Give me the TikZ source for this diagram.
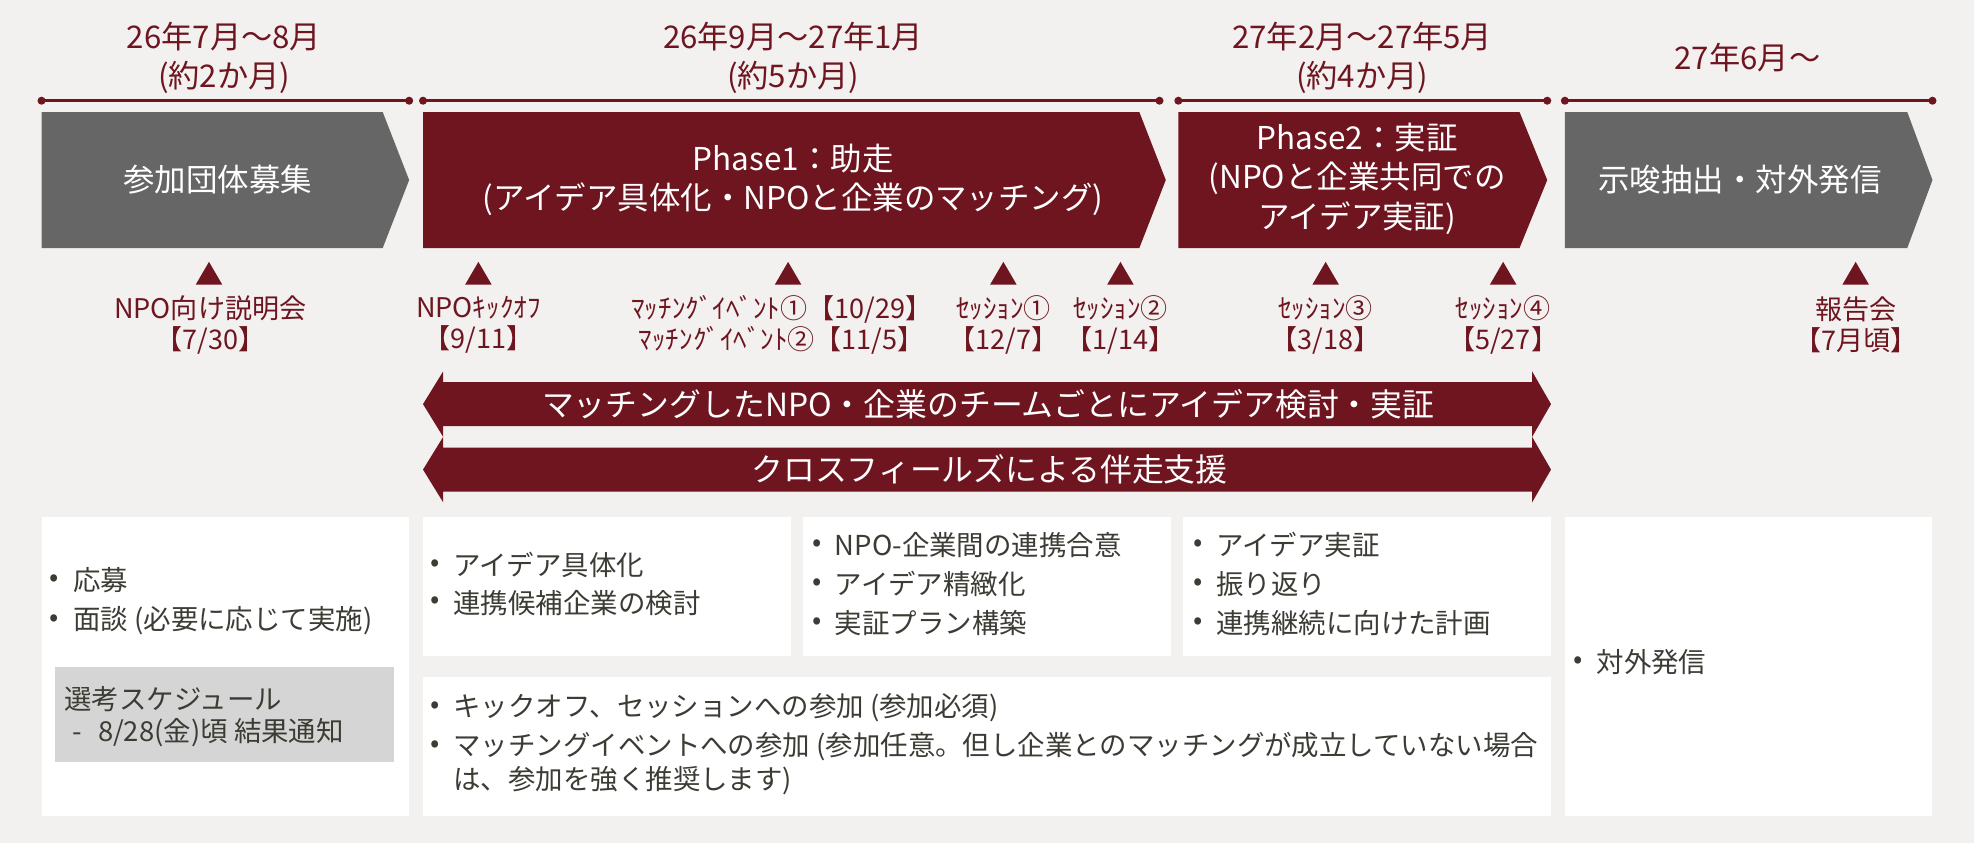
\documentclass[tikz,border=0pt]{standalone}
\usepackage{fontspec}
\setmainfont{Noto Sans CJK JP}
\definecolor{mr}{HTML}{6E1520}
\definecolor{cg}{HTML}{666666}
\definecolor{bgc}{HTML}{F2F1EF}
\definecolor{tx}{HTML}{3C3C35}
\definecolor{sg}{HTML}{D5D5D5}
\newcommand{\chevshape}[4]{\fill[#4] (#1,89) -- (#2,89) -- (#3,143) -- (#2,197) -- (#1,197) -- cycle;}
\newcommand{\evtri}[1]{\fill[mr] ({#1-10.5},226) -- (#1,208) -- ({#1+10.5},226) -- cycle;}
\newcommand{\dband}[1]{\fill[mr] (352,{#1-17.5}) -- (1217,{#1-17.5}) -- (1217,{#1-26}) -- (1232,#1) -- (1217,{#1+26}) -- (1217,{#1+17.5}) -- (352,{#1+17.5}) -- (352,{#1+26}) -- (336,#1) -- (352,{#1-26}) -- cycle;}
\begin{document}
\begin{tikzpicture}[x=1pt,y=-1pt,
  hdr/.style={text=mr,font=\fontsize{24.8}{30.5}\selectfont,align=center,inner sep=0},
  chtxt/.style={text=white,font=\fontsize{25}{31.5}\selectfont,align=center,inner sep=0},
  evt/.style={text=mr,font=\fontsize{21.5}{25}\selectfont,align=center,inner sep=0},
  bandtxt/.style={text=white,font=\fontsize{25.3}{30}\selectfont,inner sep=0},
  btxt/.style={text=tx,font=\fontsize{21.8}{25}\selectfont,anchor=west,inner sep=0},
  wbox/.style={fill=white},
  tline/.style={draw=mr,line width=2pt},
]
\fill[bgc] (0,0) rectangle (1568,670);
\useasboundingbox (0,0) rectangle (1568,670);

% period headers
\node[hdr] (h1) at (178,46) {26年7月〜8月\\(約2か月)};
\node[hdr] (h2) at (630,46) {26年9月〜27年1月\\(約5か月)};
\node[hdr] (h3) at (1082,46) {27年2月〜27年5月\\(約4か月)};
\node[hdr] (h4) at (1388,46) {27年6月〜};

% timeline segments
\coordinate (t1a) at (33,80);  \coordinate (t1b) at (325,80);
\coordinate (t2a) at (336,80); \coordinate (t2b) at (921,80);
\coordinate (t3a) at (936,80); \coordinate (t3b) at (1229,80);
\coordinate (t4a) at (1243,80); \coordinate (t4b) at (1535,80);
\foreach \a/\b in {t1a/t1b,t2a/t2b,t3a/t3b,t4a/t4b}{
  \draw[tline] (\a) -- (\b);
  \fill[mr] (\a) circle[radius=3.2pt];
  \fill[mr] (\b) circle[radius=3.2pt];
}

% chevrons
\chevshape{33}{304}{325}{cg}
\chevshape{336}{905}{926}{mr}
\chevshape{936}{1207}{1229}{mr}
\chevshape{1243}{1515}{1535}{cg}
\node[chtxt] (c1) at (173,143) {参加団体募集};
\node[chtxt] (c2) at (630,143) {Phase1：助走\\(アイデア具体化・NPOと企業のマッチング)};
\node[chtxt] (c3) at (1078,142) {Phase2：実証\\(NPOと企業共同での\\アイデア実証)};
\node[chtxt] (c4) at (1382,143) {示唆抽出・対外発信};

% event markers
\foreach \x in {166,380,626,797,890,1053,1194,1474}{\evtri{\x}}
\node[evt] (e1) at (167,258) {NPO向け説明会\\【7/30】};
\node[evt] (e2) at (380,258) {NPOｷｯｸｵﾌ\\【9/11】};
\node[evt] (e3) at (621,258) {ﾏｯﾁﾝｸﾞｲﾍﾞﾝﾄ①【10/29】\\ﾏｯﾁﾝｸﾞｲﾍﾞﾝﾄ②【11/5】};
\node[evt] (e4) at (797,258) {ｾｯｼｮﾝ①\\【12/7】};
\node[evt] (e5) at (890,258) {ｾｯｼｮﾝ②\\【1/14】};
\node[evt] (e6) at (1053,258) {ｾｯｼｮﾝ③\\【3/18】};
\node[evt] (e7) at (1194,258) {ｾｯｼｮﾝ④\\【5/27】};
\node[evt] (e8) at (1474,258) {報告会\\【7月頃】};

% double arrow bands
\dband{321}
\dband{373}
\node[bandtxt] (b1) at (785,321) {マッチングしたNPO・企業のチームごとにアイデア検討・実証};
\node[bandtxt] (b2) at (786,373) {クロスフィールズによる伴走支援};

% white boxes
\fill[wbox] (33,411) rectangle (325,648);
\fill[wbox] (336,411) rectangle (628,521);
\fill[wbox] (638,411) rectangle (930,521);
\fill[wbox] (940,411) rectangle (1232,521);
\fill[wbox] (336,538) rectangle (1232,648);
\fill[wbox] (1243,411) rectangle (1535,648);
\fill[sg] (44,530) rectangle (313,605);

% box A
\node[btxt] (a1b) at (39,461) {•};  \node[btxt] (a1) at (58,461) {応募};
\node[btxt] (a2b) at (39,493) {•};  \node[btxt] (a2) at (58,493) {面談 (必要に応じて実施)};
\node[btxt] (s1) at (51,555) {選考スケジュール};
\node[btxt] (s2) at (57,582) {-\hspace{0.6em}8/28(金)頃 結果通知};
% box B
\node[btxt] (p1b) at (342,449) {•}; \node[btxt] (p1) at (360,449) {アイデア具体化};
\node[btxt] (p2b) at (342,479) {•}; \node[btxt] (p2) at (360,479) {連携候補企業の検討};
% box C
\node[btxt] (q1b) at (645,433) {•}; \node[btxt] (q1) at (663,433) {NPO-企業間の連携合意};
\node[btxt] (q2b) at (645,464) {•}; \node[btxt] (q2) at (663,464) {アイデア精緻化};
\node[btxt] (q3b) at (645,495) {•}; \node[btxt] (q3) at (663,495) {実証プラン構築};
% box D
\node[btxt] (r1b) at (948,433) {•}; \node[btxt] (r1) at (966,433) {アイデア実証};
\node[btxt] (r2b) at (948,464) {•}; \node[btxt] (r2) at (966,464) {振り返り};
\node[btxt] (r3b) at (948,495) {•}; \node[btxt] (r3) at (966,495) {連携継続に向けた計画};
% box E
\node[btxt] (u1b) at (342,562) {•}; \node[btxt] (u1) at (360,562) {キックオフ、セッションへの参加 (参加必須)};
\node[btxt] (u2b) at (342,593) {•}; \node[btxt] (u2) at (360,593) {マッチングイベントへの参加 (参加任意。但し企業とのマッチングが成立していない場合};
\node[btxt] (u3) at (360,620) {は、参加を強く推奨します)};
% box F
\node[btxt] (f1b) at (1250,526) {•}; \node[btxt] (f1) at (1268,526) {対外発信};
\end{tikzpicture}
\end{document}
